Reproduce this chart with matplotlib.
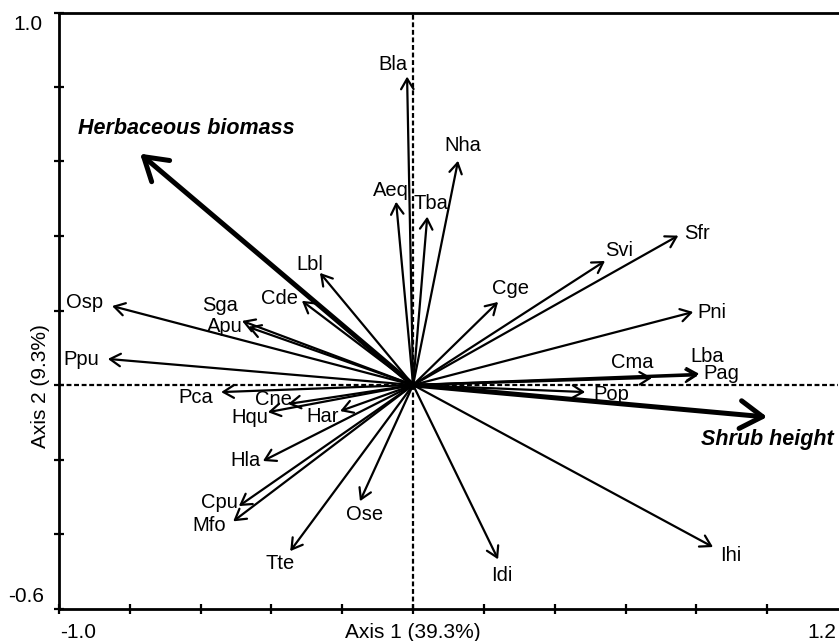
import matplotlib
matplotlib.use("Agg")
import matplotlib.pyplot as plt
import numpy as np

plt.rcParams['font.family'] = ['Liberation Sans', 'DejaVu Sans']

# ---- data (ordination scores) ----
species = ["Bla", "Aeq", "Tba", "Nha", "Lbl", "Cde", "Osp", "Sga", "Apu", "Ppu",
           "Pca", "Cne", "Hqu", "Har", "Hla", "Cpu", "Mfo", "Tte", "Ose", "Idi",
           "Ihi", "Pop", "Cma", "Lba", "Pag", "Pni", "Sfr", "Svi", "Cge"]
sp_x = [-0.017, -0.048, 0.040, 0.127, -0.263, -0.314, -0.850, -0.483, -0.466, -0.862,
        -0.542, -0.353, -0.410, -0.206, -0.424, -0.492, -0.508, -0.347, -0.150, 0.240,
        0.847, 0.486, 0.675, 0.808, 0.805, 0.791, 0.749, 0.542, 0.240]
sp_y = [0.828, 0.492, 0.452, 0.602, 0.301, 0.226, 0.212, 0.172, 0.156, 0.070,
        -0.019, -0.051, -0.073, -0.070, -0.204, -0.325, -0.366, -0.446, -0.312, -0.468,
        -0.435, -0.019, 0.019, 0.030, 0.026, 0.196, 0.401, 0.333, 0.223]

env = ["Herbaceous biomass", "Shrub height"]
env_x = [-0.771, 1.000]
env_y = [0.621, -0.086]

x_axis_label = "Axis 1 (39.3%)"
y_axis_label = "Axis 2 (9.3%)"
x_limits = [-1.0, 1.2]
y_limits = [-0.6, 1.0]

# ---- layout (label offsets in pixels relative to arrow tips) ----
sp_offsets = {
    "Bla": (-14, 12), "Aeq": (-5, 11), "Tba": (4, 13), "Nha": (5, 15),
    "Lbl": (-10, 8), "Cde": (-22, 2), "Osp": (-28, 4), "Sga": (-22, 15),
    "Apu": (-23, 0), "Ppu": (-27, -1), "Pca": (-25, -5), "Cne": (-15, 4),
    "Hqu": (-18, -5), "Har": (-18, -5), "Hla": (-17, 0), "Cpu": (-19, 4),
    "Mfo": (-24, -4), "Tte": (-10, -12), "Ose": (5, -13), "Idi": (4, -16),
    "Ihi": (18, -8), "Pop": (26, -2), "Cma": (-20, 15), "Lba": (8, 17),
    "Pag": (23, 2), "Pni": (19, -1), "Sfr": (19, 2), "Svi": (14, 10),
    "Cge": (12, 13),
}
env_offsets = {"Herbaceous biomass": (46, 25), "Shrub height": (0, -22)}

W, H = 839, 641
fig = plt.figure(figsize=(W / 100, H / 100), dpi=100)
ax = fig.add_axes([59 / W, 1 - 608.5 / H, (838 - 59) / W, (608.5 - 12.5) / H])
ax.set_xlim(*x_limits)
ax.set_ylim(*y_limits)

for s in ["left", "bottom", "top"]:
    ax.spines[s].set_linewidth(2.0)
ax.spines["right"].set_visible(False)
ax.set_xticks(np.arange(-1.0, 1.11, 0.2))
ax.set_yticks(np.arange(-0.6, 1.01, 0.2))
ax.tick_params(axis="both", direction="inout", length=7, width=1.6,
               labelbottom=False, labelleft=False)

# zero lines
ax.axhline(0, color="black", lw=1.6, ls=(0, (2.2, 1.2)), zorder=1)
ax.axvline(0, color="black", lw=1.6, ls=(0, (2.2, 1.2)), zorder=1)

# species arrows
for name, x, y in zip(species, sp_x, sp_y):
    ax.annotate("", xy=(x, y), xytext=(0, 0),
                arrowprops=dict(arrowstyle="->,head_length=0.75,head_width=0.45",
                                lw=1.6, color="black", shrinkA=0, shrinkB=0,
                                mutation_scale=10), zorder=3)
    dx, dy = sp_offsets[name]
    ax.annotate(name, xy=(x, y), xytext=(dx, dy), textcoords="offset pixels",
                ha="center", va="center", fontsize=14.5, zorder=4)

# environmental arrows
for name, x, y in zip(env, env_x, env_y):
    ax.annotate("", xy=(x, y), xytext=(0, 0),
                arrowprops=dict(arrowstyle="->,head_length=1.6,head_width=1.0",
                                lw=3.6, color="black", shrinkA=0, shrinkB=0,
                                mutation_scale=10), zorder=3)
    dx, dy = env_offsets[name]
    ax.annotate(name, xy=(x, y), xytext=(dx, dy), textcoords="offset pixels",
                ha="center", va="center", fontsize=15.5, fontweight="bold",
                fontstyle="italic", zorder=4)

# axis end labels and titles
def ftext(px, py, s, **kw):
    fig.text(px / W, 1 - py / H, s, ha="center", va="center", fontsize=15, **kw)

ftext(28, 24, f"{y_limits[1]:.1f}")
ftext(26, 596, f"{y_limits[0]:.1f}")
ftext(78, 632, f"{x_limits[0]:.1f}")
ftext(822, 632, f"{x_limits[1]:.1f}")
ftext(413, 632, x_axis_label)
ftext(40, 386, y_axis_label, rotation=90)

fig.savefig("out.png", dpi=100)
